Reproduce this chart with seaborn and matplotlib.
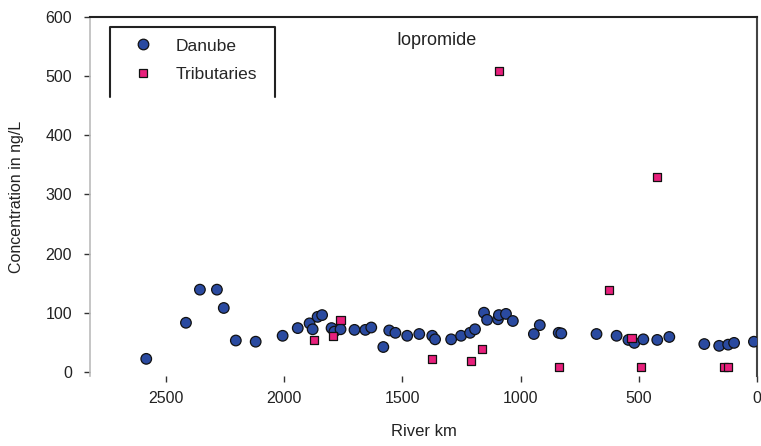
import matplotlib
matplotlib.use("Agg")
import matplotlib.pyplot as plt
import seaborn as sns
import pandas as pd

# Danube main-stream samples
danube_km = [2584, 2416, 2357, 2285, 2256, 2205, 2121, 2007, 1943, 1893, 1880, 1859, 1840,
             1800, 1788, 1762, 1703, 1657, 1632, 1581, 1556, 1530, 1480, 1429, 1374, 1362,
             1294, 1252, 1214, 1193, 1155, 1142, 1096, 1092, 1062, 1033, 944, 919, 839, 828,
             679, 594, 544, 519, 481, 422, 371, 223, 160, 122, 97, 13]
danube_conc = [22, 83, 139, 139, 108, 53, 51, 61, 74, 82, 72, 93, 96,
               74, 68, 72, 71, 71, 75, 42, 70, 66, 61, 64, 61, 55,
               55, 61, 66, 72, 100, 88, 89, 96, 98, 86, 64, 79, 66, 65,
               64, 61, 54, 49, 55, 54, 59, 47, 44, 46, 49, 51]

# Tributary samples
trib_km = [1876, 1792, 1762, 1374, 1210, 1164, 1092, 839, 628, 531, 489, 422, 139, 122]
trib_conc = [54, 60, 87, 22, 19, 39, 508, 8, 139, 57, 8, 329, 8, 8]

yticks = [0, 100, 200, 300, 400, 500, 600]
xticks = [2500, 2000, 1500, 1000, 500, 0]

df = pd.concat([
    pd.DataFrame({"km": danube_km, "conc": danube_conc, "site": "Danube"}),
    pd.DataFrame({"km": trib_km, "conc": trib_conc, "site": "Tributaries"}),
], ignore_index=True)

sns.set_theme(style="white")
plt.rcParams["font.family"] = ["Liberation Sans", "DejaVu Sans"]

fig = plt.figure(figsize=(7.61, 4.46), dpi=100)
ax = fig.add_axes([90 / 761, 1 - 376 / 446, (757 - 90) / 761, (376 - 17) / 446])

sns.scatterplot(data=df, x="km", y="conc", hue="site", style="site", size="site",
                palette={"Danube": "#2a4aa0", "Tributaries": "#e8207c"},
                markers={"Danube": "o", "Tributaries": "s"},
                sizes={"Danube": 58, "Tributaries": 34},
                edgecolor="#111111", linewidth=0.9, ax=ax, zorder=3)

ax.set_xlim(2822, 0)
ax.set_ylim(-7, 600)
ax.set_xticks(xticks)
ax.set_yticks(yticks)
ax.set_xticklabels([str(v) for v in xticks], fontsize=11.5, color="#222222")
ax.set_yticklabels([str(v) for v in yticks], fontsize=11.5, color="#222222")
ax.tick_params(axis="both", direction="out", length=4, width=1, color="#333333", left=True, bottom=True)
ax.tick_params(axis="y", pad=9)
ax.tick_params(axis="x", pad=7)
ax.set_xlabel("River km", fontsize=12, labelpad=13, color="#222222")
ax.set_ylabel("Concentration in ng/L", fontsize=11.5, labelpad=15, color="#222222")

ax.spines["bottom"].set_visible(False)
ax.spines["left"].set_color("#bbbbbb")
ax.spines["left"].set_linewidth(1.2)
ax.spines["top"].set_color("#222222")
ax.spines["top"].set_linewidth(1.5)
ax.spines["right"].set_color("#444444")
ax.spines["right"].set_linewidth(1.5)

ax.text(0.52, 0.935, "Iopromide", transform=ax.transAxes, fontsize=13, ha="center", va="center",
        color="#222222")

handles, labels = ax.get_legend_handles_labels()
leg = ax.legend(handles=handles, labels=labels, loc="upper left",
                bbox_to_anchor=(0.045, 0.955), fontsize=12.5, frameon=False,
                handletextpad=0.9, labelspacing=0.75, borderaxespad=0, borderpad=0.3)

# open-bottom legend box as in the original figure
bx0, bx1, by0, by1 = 0.030, 0.277, 0.777, 0.972
ax.plot([bx0, bx0, bx1, bx1], [by0, by1, by1, by0], transform=ax.transAxes,
        color="#222222", lw=1.5, clip_on=False, zorder=4)

fig.savefig("out.png", dpi=100)
